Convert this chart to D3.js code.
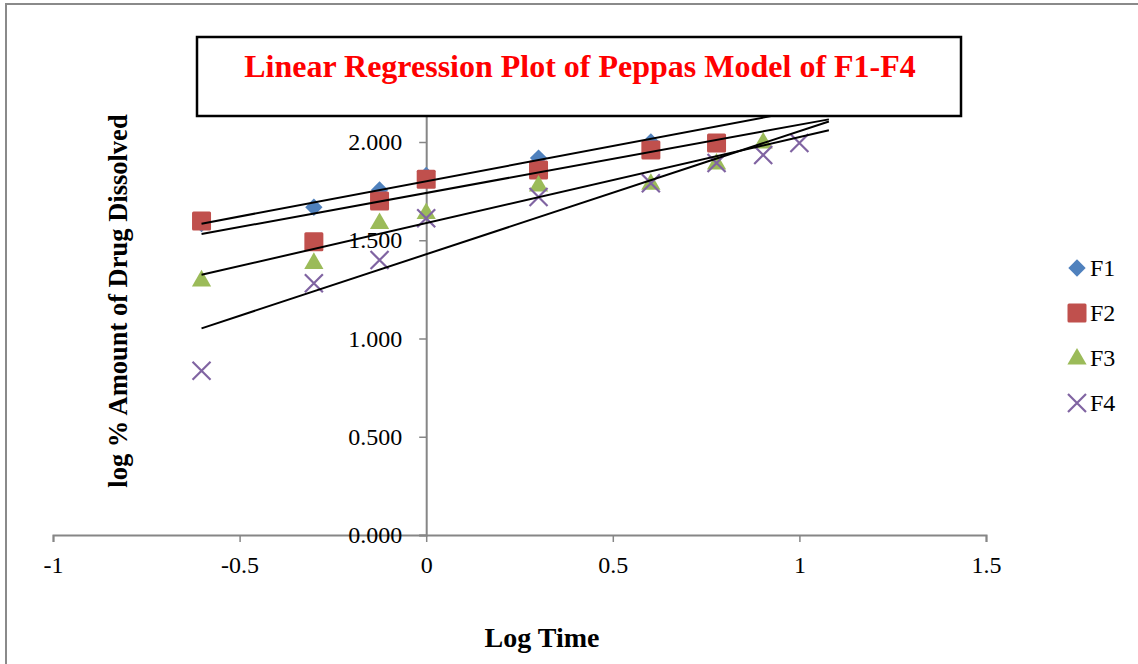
<!DOCTYPE html>
<html>
<head>
<meta charset="utf-8">
<script src="https://cdn.jsdelivr.net/npm/d3@7/dist/d3.min.js"></script>
<style>
  html, body { margin: 0; padding: 0; background: #fff; }
  svg { display: block; }
  text { font-family: "Liberation Serif", "Times New Roman", serif; }
</style>
</head>
<body>
<svg id="chart" width="1138" height="664"></svg>
<script>
// Log time (x) shared by all formulations
const logTime = [-0.602, -0.301, -0.125, 0, 0.301, 0.602, 0.778, 0.903, 1.0];

// log % amount of drug dissolved per formulation
const f1 = [1.585, 1.668, 1.756, 1.830, 1.918, 2.000];
const f2 = [1.598, 1.493, 1.700, 1.810, 1.857, 1.959, 1.995];
const f3 = [1.298, 1.387, 1.590, 1.641, 1.781, 1.790, 1.893, 2.000];
const f4 = [0.836, 1.281, 1.399, 1.612, 1.720, 1.790, 1.893, 1.934, 1.995];

const seriesNames = ["F1", "F2", "F3", "F4"];
const seriesColors = ["#4F81BD", "#C0504D", "#9BBB59", "#8064A2"];
const seriesShapes = ["diamond", "square", "triangle", "cross"];

const xTicks = [-1, -0.5, 0, 0.5, 1, 1.5];
const yTicks = [0, 0.5, 1.0, 1.5, 2.0, 2.5];
const trendEnd = 1.079; // trendlines are projected forward to this log time

const titleText = "Linear Regression Plot of Peppas Model of F1-F4";
const xTitle = "Log Time";
const yTitle = "log % Amount of Drug Dissolved";

const series = [f1, f2, f3, f4].map((vals, i) => ({
  name: seriesNames[i],
  color: seriesColors[i],
  shape: seriesShapes[i],
  points: vals.map((v, j) => ({ x: logTime[j], y: v }))
}));

const svg = d3.select("#chart");
const W = 1138, H = 664;

// Outer chart frame (right and bottom edges fall outside the view)
svg.append("rect")
  .attr("x", 6).attr("y", 4)
  .attr("width", W + 10).attr("height", H + 10)
  .attr("fill", "#fff")
  .attr("stroke", "#8a8a8a").attr("stroke-width", 2);

const x = d3.scaleLinear().domain([-1, 1.5]).range([53, 986]);
const y = d3.scaleLinear().domain([0, 2.5]).range([535, 43.75]);

const axisColor = "#868686";

// X axis crossing at y = 0
const gx = svg.append("g")
  .attr("transform", `translate(0,${y(0)})`)
  .call(d3.axisBottom(x).tickValues(xTicks).tickSize(7).tickPadding(14)
    .tickFormat(d => String(d)));
gx.select(".domain").attr("stroke", axisColor).attr("stroke-width", 2);
gx.selectAll(".tick line").attr("stroke", axisColor).attr("stroke-width", 1.5);
gx.selectAll(".tick text")
  .attr("fill", "#000")
  .style("font-family", "'Liberation Serif', 'Times New Roman', serif")
  .style("font-size", "24px");

// Y axis crossing at x = 0
const gy = svg.append("g")
  .attr("transform", `translate(${x(0)},0)`)
  .call(d3.axisLeft(y).tickValues(yTicks).tickSize(7).tickPadding(17)
    .tickFormat(d3.format(".3f")));
gy.select(".domain").attr("stroke", axisColor).attr("stroke-width", 2);
gy.selectAll(".tick line").attr("stroke", axisColor).attr("stroke-width", 1.5);
gy.selectAll(".tick text")
  .attr("fill", "#000")
  .style("font-family", "'Liberation Serif', 'Times New Roman', serif")
  .style("font-size", "24px");

// Marker drawing
function drawMarker(g, shape, color) {
  if (shape === "diamond") {
    g.append("path")
      .attr("d", d3.symbol(d3.symbolSquare, 150)())
      .attr("transform", "rotate(45)")
      .attr("fill", color);
  } else if (shape === "square") {
    g.append("rect")
      .attr("x", -9.5).attr("y", -9.5).attr("width", 19).attr("height", 19)
      .attr("rx", 1.5)
      .attr("fill", color);
  } else if (shape === "triangle") {
    g.append("path")
      .attr("d", d3.symbol(d3.symbolTriangle, 160)())
      .attr("transform", "translate(0,1)")
      .attr("fill", color);
  } else {
    const s = 9;
    g.append("path")
      .attr("d", `M${-s},${-s}L${s},${s}M${-s},${s}L${s},${-s}`)
      .attr("stroke", color).attr("stroke-width", 2.2)
      .attr("fill", "none");
  }
}

// Data markers
series.forEach(s => {
  const g = svg.append("g").attr("class", "series-" + s.name);
  s.points.forEach(p => {
    const m = g.append("g").attr("transform", `translate(${x(p.x)},${y(p.y)})`);
    drawMarker(m, s.shape, s.color);
  });
});

// Least-squares trendlines
function fit(points) {
  const mx = d3.mean(points, d => d.x), my = d3.mean(points, d => d.y);
  const sxy = d3.sum(points, d => (d.x - mx) * (d.y - my));
  const sxx = d3.sum(points, d => (d.x - mx) ** 2);
  const b = sxy / sxx;
  return { slope: b, intercept: my - b * mx };
}
const line = d3.line().x(d => x(d.x)).y(d => y(d.y));
series.forEach(s => {
  const f = fit(s.points);
  const x0 = d3.min(s.points, d => d.x);
  const ends = [x0, trendEnd].map(v => ({ x: v, y: f.intercept + f.slope * v }));
  svg.append("path")
    .attr("d", line(ends))
    .attr("stroke", "#000").attr("stroke-width", 2)
    .attr("fill", "none");
});

// Legend
const legend = svg.append("g").attr("transform", "translate(1077,0)");
const legendY = [268, 313, 358, 403];
series.forEach((s, i) => {
  const m = legend.append("g").attr("transform", `translate(0,${legendY[i]})`);
  drawMarker(m, s.shape, s.color);
  legend.append("text")
    .attr("x", 13).attr("y", legendY[i])
    .attr("dy", "0.35em")
    .style("font-size", "24px")
    .attr("fill", "#000")
    .text(s.name);
});

// Axis titles
svg.append("text")
  .attr("x", 542).attr("y", 647)
  .attr("text-anchor", "middle")
  .style("font-size", "28px").style("font-weight", "bold")
  .text(xTitle);

svg.append("text")
  .attr("transform", "translate(127,301) rotate(-90)")
  .attr("text-anchor", "middle")
  .style("font-size", "26.5px").style("font-weight", "bold")
  .text(yTitle);

// Title box drawn over the plot
svg.append("rect")
  .attr("x", 197).attr("y", 37).attr("width", 764).attr("height", 79)
  .attr("fill", "#fff")
  .attr("stroke", "#000").attr("stroke-width", 2.5);
svg.append("text")
  .attr("x", 580).attr("y", 77)
  .attr("text-anchor", "middle")
  .attr("fill", "#ff0000")
  .style("font-size", "32px").style("font-weight", "bold")
  .text(titleText);
</script>
</body>
</html>
